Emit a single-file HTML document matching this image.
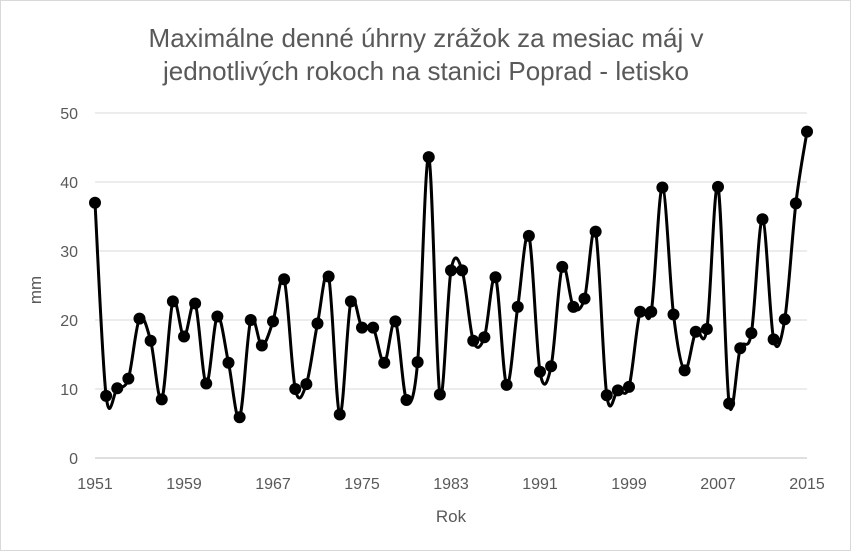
<!DOCTYPE html>
<html><head><meta charset="utf-8"><style>
html,body{margin:0;padding:0;background:#fff;}
svg{display:block;font-family:"Liberation Sans",Calibri,sans-serif;}
</style></head><body>
<svg id="c" width="851" height="551" viewBox="0 0 851 551" xmlns="http://www.w3.org/2000/svg">
<rect x="0.5" y="0.5" width="850" height="550" fill="#fff" stroke="#d9d9d9"/>
<text x="426" y="47" text-anchor="middle" font-size="26" fill="#595959">Maximálne denné úhrny zrážok za mesiac máj v</text>
<text x="426" y="80" text-anchor="middle" font-size="26" fill="#595959">jednotlivých rokoch na stanici Poprad - letisko</text>
<g id="grid"></g>
<text transform="translate(41,290) rotate(-90)" text-anchor="middle" font-size="17" fill="#595959">mm</text>
<text x="451" y="522" text-anchor="middle" font-size="17" fill="#595959">Rok</text>
<path id="line" fill="none" stroke="#000" stroke-width="3"/>
<g id="pts"></g>
</svg>
<script>
var d=[37,9,10.1,11.5,20.2,17,8.5,22.7,17.6,22.4,10.8,20.5,13.8,5.9,20,16.3,19.8,25.9,10,10.7,19.5,26.3,6.3,22.7,18.9,18.9,13.8,19.8,8.4,13.9,43.6,9.2,27.2,27.2,17,17.5,26.2,10.6,21.9,32.2,12.5,13.3,27.7,21.9,23.1,32.8,9.1,9.8,10.3,21.2,21.2,39.2,20.8,12.7,18.3,18.7,39.3,7.9,15.9,18.1,34.6,17.2,20.1,36.9,47.3];
function X(i){return 95+i*(712/64);}function Y(v){return 458-v*6.9;}
var g=document.getElementById('grid'),s='';
for(var v=0;v<=50;v+=10){var y=Y(v);s+='<line x1="95" x2="807" y1="'+y+'" y2="'+y+'" stroke="'+(v==0?'#bfbfbf':'#d9d9d9')+'" stroke-width="1"/>';
s+='<text x="78" y="'+(y+6)+'" text-anchor="end" font-size="16" fill="#595959">'+v+'</text>';}
for(var yr=1951;yr<=2015;yr+=8){s+='<text x="'+X(yr-1951)+'" y="489" text-anchor="middle" font-size="16" fill="#595959">'+yr+'</text>';}
g.innerHTML=s;
var P=d.map(function(v,i){return [X(i),Y(v)];});
var p='M'+P[0][0]+','+P[0][1];
for(var i=0;i<P.length-1;i++){var p0=P[Math.max(0,i-1)],p1=P[i],p2=P[i+1],p3=P[Math.min(P.length-1,i+2)];
var t=0.5/3;var c1=[p1[0]+(p2[0]-p0[0])*t,p1[1]+(p2[1]-p0[1])*t],c2=[p2[0]-(p3[0]-p1[0])*t,p2[1]-(p3[1]-p1[1])*t];
p+=' C'+c1[0]+','+c1[1]+' '+c2[0]+','+c2[1]+' '+p2[0]+','+p2[1];}
document.getElementById('line').setAttribute('d',p);
var q='';P.forEach(function(a){q+='<circle cx="'+a[0]+'" cy="'+a[1]+'" r="6" fill="#000"/>';});
document.getElementById('pts').innerHTML=q;
</script>
</body></html>
